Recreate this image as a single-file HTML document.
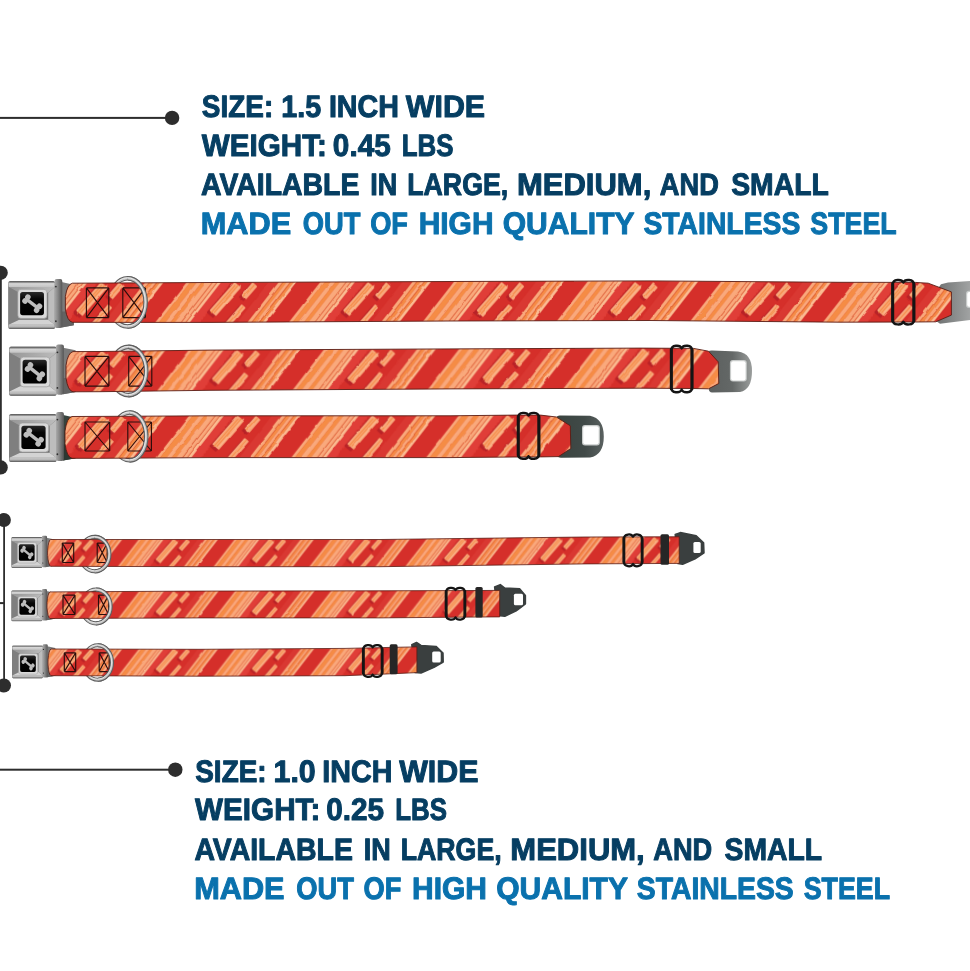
<!DOCTYPE html>
<html lang="en"><head><meta charset="utf-8"><title>Collar sizes</title>
<style>
html,body{margin:0;padding:0;background:#fff;}
body{width:970px;height:971px;overflow:hidden;}
svg{display:block;}
text{text-rendering:geometricPrecision;font-family:"Liberation Sans",sans-serif;font-weight:bold;font-size:31px;stroke-width:1px;stroke-linejoin:round;}
.n{fill:#063e62;stroke:#063e62;}
.b{fill:#0a71ad;stroke:#0a71ad;}
</style></head><body>
<svg width="970" height="971" viewBox="0 0 970 971">
<defs>
<filter id="wob" filterUnits="userSpaceOnUse" x="-20" y="-8" width="1400" height="60" color-interpolation-filters="sRGB">
<feTurbulence type="fractalNoise" baseFrequency="0.075" numOctaves="1" seed="7" result="n"/>
<feDisplacementMap in="SourceGraphic" in2="n" scale="2.8" xChannelSelector="R" yChannelSelector="G" result="d"/>
<feGaussianBlur in="d" stdDeviation="0.45"/>
</filter>
<g id="per"><g transform="rotate(37.95423087513252)"><path d="M23.66,-120 L34.38,-120 q2.4,1.7 0,3.8 q2.4,1.7 0,3.8 q2.4,1.7 0,3.8 q2.4,1.7 0,3.8 q2.4,1.7 0,3.8 q2.4,1.7 0,3.8 q2.4,1.7 0,3.8 q2.4,1.7 0,3.8 q2.4,1.7 0,3.8 q2.4,1.7 0,3.8 q2.4,1.7 0,3.8 q2.4,1.7 0,3.8 q2.4,1.7 0,3.8 q2.4,1.7 0,3.8 q2.4,1.7 0,3.8 q2.4,1.7 0,3.8 q2.4,1.7 0,3.8 q2.4,1.7 0,3.8 q2.4,1.7 0,3.8 q2.4,1.7 0,3.8 q2.4,1.7 0,3.8 q2.4,1.7 0,3.8 q2.4,1.7 0,3.8 q2.4,1.7 0,3.8 q2.4,1.7 0,3.8 q2.4,1.7 0,3.8 q2.4,1.7 0,3.8 q2.4,1.7 0,3.8 q2.4,1.7 0,3.8 q2.4,1.7 0,3.8 q2.4,1.7 0,3.8 q2.4,1.7 0,3.8 q2.4,1.7 0,3.8 q2.4,1.7 0,3.8 q2.4,1.7 0,3.8 q2.4,1.7 0,3.8 q2.4,1.7 0,3.8 q2.4,1.7 0,3.8 q2.4,1.7 0,3.8 q2.4,1.7 0,3.8 q2.4,1.7 0,3.8 q2.4,1.7 0,3.8 q2.4,1.7 0,3.8 q2.4,1.7 0,3.8 q2.4,1.7 0,3.8 q2.4,1.7 0,3.8 q2.4,1.7 0,3.8 q2.4,1.7 0,3.8 q2.4,1.7 0,3.8 q2.4,1.7 0,3.8 q2.4,1.7 0,3.8 q2.4,1.7 0,3.8 q2.4,1.7 0,3.8 q2.4,1.7 0,3.8 q2.4,1.7 0,3.8 q2.4,1.7 0,3.8 q2.4,1.7 0,3.8 q2.4,1.7 0,3.8 L23.66,100.4 Z" fill="#e03e38"/>
<rect x="0.00" y="-120" width="2.92" height="220" fill="#f9a97c"/>
<rect x="2.76" y="-120" width="5.28" height="220" fill="#f58c45"/>
<rect x="7.89" y="-120" width="4.10" height="220" fill="#f9a97c"/>
<rect x="11.83" y="-120" width="3.71" height="220" fill="#f58c45"/>
<rect x="15.38" y="-120" width="4.89" height="220" fill="#f9a97c"/>
<rect x="20.11" y="-120" width="0.63" height="220" fill="#d9652f"/>
<rect x="20.74" y="-120" width="3.15" height="220" fill="#f9a97c"/>
<rect x="23.89" y="-120" width="0.55" height="220" fill="#d9652f"/>
<rect x="24.44" y="-120" width="2.76" height="220" fill="#fbbd92"/>
<rect x="35.32" y="-26.50" width="8.67" height="38.05" rx="0.8" fill="#b82227" transform="rotate(3.4 39.66 -7.47)"/>
<rect x="36.43" y="-29.89" width="8.67" height="38.05" rx="0.8" fill="#f9a97c" transform="rotate(3.4 40.77 -10.87)"/>
<rect x="38.48" y="-27.94" width="1.18" height="36.78" rx="0" fill="#f58c45" transform="rotate(3.4 39.07 -9.55)"/>
<rect x="40.84" y="-29.75" width="1.10" height="36.78" rx="0" fill="#f58c45" transform="rotate(3.4 41.40 -11.36)"/>
<rect x="43.05" y="-31.38" width="0.87" height="36.78" rx="0" fill="#fbbd92" transform="rotate(3.4 43.49 -12.99)"/>
<rect x="50.62" y="-38.14" width="6.31" height="17.76" rx="0.8" fill="#b82227" transform="rotate(3.4 53.78 -29.26)"/>
<rect x="51.57" y="-40.78" width="6.31" height="17.12" rx="0.8" fill="#f9a97c" transform="rotate(3.4 54.72 -32.22)"/>
<rect x="54.01" y="-40.02" width="1.10" height="15.85" rx="0" fill="#f58c45" transform="rotate(3.4 54.56 -32.10)"/>
<rect x="54.88" y="-13.89" width="5.52" height="34.88" rx="0.8" fill="#b82227" transform="rotate(3.4 57.64 0.84)"/>
<rect x="55.83" y="-16.78" width="5.52" height="37.03" rx="0.8" fill="#f9a97c" transform="rotate(3.4 58.59 0.11)"/>
<rect x="58.03" y="-16.12" width="1.03" height="36.40" rx="0" fill="#f58c45" transform="rotate(3.4 58.55 0.14)"/>
<rect x="64.66" y="-120" width="7.10" height="220" fill="#d93832"/>
<rect x="72.54" y="-120" width="3.31" height="220" fill="#f9a97c"/>
<rect x="75.70" y="-120" width="0.55" height="220" fill="#d9652f"/>
<rect x="76.25" y="-120" width="2.68" height="220" fill="#f58c45"/>
<rect x="78.85" y="-120" width="2.84" height="220" fill="#f9a97c"/>
<rect x="81.61" y="-120" width="0.55" height="220" fill="#d9652f"/>
<rect x="82.16" y="-120" width="2.21" height="220" fill="#f58c45"/>
<rect x="84.37" y="-120" width="2.68" height="220" fill="#fbbd92"/></g></g>
<g id="band"><rect x="-30" y="-10" width="1420" height="64" fill="#d52f2a"/>
<use href="#per" x="-133.5"/><use href="#per" x="0.0"/><use href="#per" x="133.5"/><use href="#per" x="267.0"/><use href="#per" x="400.5"/><use href="#per" x="534.0"/><use href="#per" x="667.5"/><use href="#per" x="801.0"/><use href="#per" x="934.5"/><use href="#per" x="1068.0"/><use href="#per" x="1201.5"/>
</g>

<linearGradient id="gClamp" x1="0" x2="1" y1="0" y2="0">
<stop offset="0" stop-color="#a8a8a8"/><stop offset="0.4" stop-color="#8a8a8a"/><stop offset="1" stop-color="#555"/>
</linearGradient>
<linearGradient id="gRim" x1="0" x2="0" y1="0" y2="1">
<stop offset="0" stop-color="#c9c9c9"/><stop offset="0.55" stop-color="#b5b5b5"/><stop offset="1" stop-color="#5f5f5f"/>
</linearGradient>
<linearGradient id="gTop" x1="0" x2="0" y1="0" y2="1">
<stop offset="0" stop-color="#5c5c5c"/><stop offset="0.35" stop-color="#d6d6d6"/><stop offset="1" stop-color="#c2c2c2"/>
</linearGradient>
<linearGradient id="gFaceT" x1="0" x2="1" y1="0" y2="0"><stop offset="0" stop-color="#969696"/><stop offset="1" stop-color="#bcbcbc"/></linearGradient>
<linearGradient id="gSq" x1="0" x2="0" y1="0" y2="1">
<stop offset="0" stop-color="#2a2a2a"/><stop offset="0.3" stop-color="#060606"/><stop offset="1" stop-color="#000"/>
</linearGradient>
<linearGradient id="gTongue" x1="0" x2="1" y1="0" y2="0">
<stop offset="0" stop-color="#5b5f5e"/><stop offset="0.55" stop-color="#646867"/><stop offset="1" stop-color="#9a9d9c"/>
</linearGradient>
<linearGradient id="gTongue1" x1="0" x2="1" y1="0" y2="0">
<stop offset="0" stop-color="#6d7070"/><stop offset="1" stop-color="#a2a4a4"/>
</linearGradient>
<linearGradient id="gTongue3" x1="0" x2="1" y1="0" y2="0">
<stop offset="0" stop-color="#39433f"/><stop offset="0.6" stop-color="#414a48"/><stop offset="1" stop-color="#5a6160"/>
</linearGradient>
<g id="bone" fill="#bdbdbd">
<rect x="-7" y="-1.7" width="14" height="3.4"/>
<circle cx="-7.4" cy="-2.4" r="2.8"/><circle cx="-7.4" cy="2.4" r="2.8"/>
<circle cx="7.4" cy="-2.4" r="2.8"/><circle cx="7.4" cy="2.4" r="2.8"/>
</g>
<g id="buckle">
<rect x="0" y="0" width="47.5" height="47" rx="2" fill="#6f6f6f"/>
<rect x="0.4" y="0.6" width="46.8" height="5.6" rx="1.5" fill="url(#gTop)"/>
<polygon points="0.3,6 11,11.5 11,38 0.3,43" fill="#7f7f7f"/>
<polygon points="0.3,6 47.2,6 40.5,11.5 11,11.5" fill="url(#gFaceT)"/>
<polygon points="47.2,6 47.2,43 40.5,38 40.5,11.5" fill="#bdbdbd"/>
<polygon points="0.3,43 11,38 40.5,38 47.2,43" fill="#d3d3d3"/>
<rect x="0.4" y="42.6" width="46.8" height="4.2" rx="1.2" fill="url(#gRim)"/>
</g>
<g id="binner">
<rect x="11.2" y="10" width="29.6" height="28.5" rx="3.2" fill="#d9d9d9" stroke="#9e9e9e" stroke-width="0.7"/>
<rect x="13.5" y="12.6" width="24.2" height="22.8" rx="2.6" fill="url(#gSq)"/>
<use href="#bone" transform="translate(25.8,24) rotate(37)"/>
</g>
<g id="clamp">
<rect x="47" y="-2" width="7.8" height="48" rx="2" fill="url(#gClamp)"/>
<circle cx="48.3" cy="5.5" r="0.9" fill="#2e2e2e"/><circle cx="48.3" cy="39.5" r="0.9" fill="#2e2e2e"/>
</g>

<clipPath id="cp1"><path d="M72.4,283.2 L150,282.8 L210,282.5 L450,281.5 L650,280.9 L840,282.3 L915.3,282.4 L928.2,283.2 L951.4,291.9 L951.4,315.1 L935.7,321.8 L915.3,322.0 L840,322.2 L650,320.5 L450,321.0 L210,322.4 L150,322.4 L72.4,322.3 Q67.2,321.3 65.4,309.1 L65.4,296.4 Q67.2,284.2 72.4,283.2 Z"/></clipPath>
<clipPath id="cp2"><path d="M73,351.6 L100,351.5 L210,350.1 L450,348.9 L640,348.1 L693.5,348.4 L708.5,351.2 L718.2,361.8 L718.8,383.5 L708.5,388.8 L693.5,388.5 L640,388.2 L450,388.9 L210,390.3 L100,391.7 L73,391.8 Q67.8,390.8 66,378.0 L66,365.4 Q67.8,352.6 73,351.6 Z"/></clipPath>
<clipPath id="cp3"><path d="M72,416.5 L100,416.4 L210,415.8 L450,415.8 L516,415.1 L540.4,415.1 L556.4,417.0 L570.3,425.8 L570.8,448.5 L558.5,456.6 L540.4,456.9 L516,457.0 L450,457.6 L210,457.6 L100,458.3 L72,458.3 Q66.8,457.3 65,443.7 L65,431.1 Q66.8,417.5 72,416.5 Z"/></clipPath>
<clipPath id="cp4"><path d="M50.6,539.5 L200,539.5 L380,539.5 L585,537.0 L660,536.8 L679.2,536.8 L679.2,563.4 L660,563.5 L585,563.9 L380,566.7 L200,566.7 L50.6,566.3 Q48.4,565.3 47.6,555.6 L47.6,550.2 Q48.4,540.5 50.6,539.5 Z"/></clipPath>
<clipPath id="cp5"><path d="M50.0,591.9 L200,591.1 L380,590.8 L480,590.5 L499.7,590.4 L499.7,616.9 L480,617.0 L380,617.9 L200,617.9 L50.0,618.5 Q47.8,617.5 47.0,607.9 L47.0,602.5 Q47.8,592.9 50.0,591.9 Z"/></clipPath>
<clipPath id="cp6"><path d="M51.0,649.0 L200,649.3 L345,648.4 L400,647.2 L416.9,646.9 L416.9,672.6 L400,673.4 L345,675.7 L200,676.2 L51.0,675.7 Q48.8,674.7 48.0,665.1 L48.0,659.6 Q48.8,650.0 51.0,649.0 Z"/></clipPath>
</defs>
<rect width="970" height="971" fill="#fff"/>
<g fill="#2d2d2d" stroke="none">
<rect x="0" y="116.9" width="172" height="2"/><circle cx="172.1" cy="117.9" r="7.2"/>
<rect x="0" y="768.7" width="175" height="2"/><circle cx="175.3" cy="769.7" r="7.2"/>
<rect x="-0.3" y="272.8" width="2.1" height="194.6"/><circle cx="0.7" cy="272.8" r="7.1"/><circle cx="0.7" cy="467.4" r="7.1"/>
<rect x="3.2" y="520" width="1.8" height="165.5"/><circle cx="3.9" cy="520" r="7.0"/><circle cx="3.9" cy="685.5" r="7.1"/>
<rect x="0" y="602.1" width="4" height="2"/>
</g>
<g id="info-large">
<text y="117" class="n"><tspan x="201.86" textLength="71.35" lengthAdjust="spacingAndGlyphs">SIZE:</tspan> <tspan x="281.21" textLength="39.91" lengthAdjust="spacingAndGlyphs">1.5</tspan> <tspan x="328.91" textLength="70.08" lengthAdjust="spacingAndGlyphs">INCH</tspan> <tspan x="405.80" textLength="79.30" lengthAdjust="spacingAndGlyphs">WIDE</tspan></text>
<text y="156" class="n"><tspan x="201.70" textLength="125.16" lengthAdjust="spacingAndGlyphs">WEIGHT:</tspan> <tspan x="332.87" textLength="57.87" lengthAdjust="spacingAndGlyphs">0.45</tspan> <tspan x="401.78" textLength="51.70" lengthAdjust="spacingAndGlyphs">LBS</tspan></text>
<text y="195" class="n"><tspan x="201.06" textLength="158.39" lengthAdjust="spacingAndGlyphs">AVAILABLE</tspan> <tspan x="370.31" textLength="26.96" lengthAdjust="spacingAndGlyphs">IN</tspan> <tspan x="407.23" textLength="101.05" lengthAdjust="spacingAndGlyphs">LARGE,</tspan> <tspan x="516.96" textLength="134.37" lengthAdjust="spacingAndGlyphs">MEDIUM,</tspan> <tspan x="659.87" textLength="58.97" lengthAdjust="spacingAndGlyphs">AND</tspan> <tspan x="731.16" textLength="97.63" lengthAdjust="spacingAndGlyphs">SMALL</tspan></text>
<text y="234" class="b"><tspan x="200.78" textLength="90.43" lengthAdjust="spacingAndGlyphs">MADE</tspan> <tspan x="302.85" textLength="57.69" lengthAdjust="spacingAndGlyphs">OUT</tspan> <tspan x="370.15" textLength="37.84" lengthAdjust="spacingAndGlyphs">OF</tspan> <tspan x="418.63" textLength="74.95" lengthAdjust="spacingAndGlyphs">HIGH</tspan> <tspan x="502.77" textLength="131.26" lengthAdjust="spacingAndGlyphs">QUALITY</tspan> <tspan x="643.46" textLength="156.89" lengthAdjust="spacingAndGlyphs">STAINLESS</tspan> <tspan x="810.28" textLength="86.38" lengthAdjust="spacingAndGlyphs">STEEL</tspan></text>
</g>
<g id="info-small">
<text y="782" class="n"><tspan x="195.26" textLength="71.35" lengthAdjust="spacingAndGlyphs">SIZE:</tspan> <tspan x="273.50" textLength="42.23" lengthAdjust="spacingAndGlyphs">1.0</tspan> <tspan x="322.31" textLength="70.08" lengthAdjust="spacingAndGlyphs">INCH</tspan> <tspan x="399.20" textLength="79.30" lengthAdjust="spacingAndGlyphs">WIDE</tspan></text>
<text y="820" class="n"><tspan x="195.10" textLength="125.16" lengthAdjust="spacingAndGlyphs">WEIGHT:</tspan> <tspan x="326.27" textLength="57.87" lengthAdjust="spacingAndGlyphs">0.25</tspan> <tspan x="395.18" textLength="51.70" lengthAdjust="spacingAndGlyphs">LBS</tspan></text>
<text y="860" class="n"><tspan x="194.46" textLength="158.39" lengthAdjust="spacingAndGlyphs">AVAILABLE</tspan> <tspan x="363.71" textLength="26.96" lengthAdjust="spacingAndGlyphs">IN</tspan> <tspan x="400.63" textLength="101.05" lengthAdjust="spacingAndGlyphs">LARGE,</tspan> <tspan x="510.36" textLength="134.37" lengthAdjust="spacingAndGlyphs">MEDIUM,</tspan> <tspan x="653.27" textLength="58.97" lengthAdjust="spacingAndGlyphs">AND</tspan> <tspan x="724.56" textLength="97.63" lengthAdjust="spacingAndGlyphs">SMALL</tspan></text>
<text y="899" class="b"><tspan x="194.18" textLength="90.43" lengthAdjust="spacingAndGlyphs">MADE</tspan> <tspan x="296.25" textLength="57.69" lengthAdjust="spacingAndGlyphs">OUT</tspan> <tspan x="363.55" textLength="37.84" lengthAdjust="spacingAndGlyphs">OF</tspan> <tspan x="412.03" textLength="74.95" lengthAdjust="spacingAndGlyphs">HIGH</tspan> <tspan x="496.17" textLength="131.26" lengthAdjust="spacingAndGlyphs">QUALITY</tspan> <tspan x="636.86" textLength="156.89" lengthAdjust="spacingAndGlyphs">STAINLESS</tspan> <tspan x="803.68" textLength="86.38" lengthAdjust="spacingAndGlyphs">STEEL</tspan></text>
</g>
<g id="collar-l1">
<path d="M935.5,292 L941,284.2 L948,282.4 L971,281 L971,319.8 L940,323.8 L935.5,320.5 Z" fill="url(#gTongue1)"/><rect x="966.0" y="290.7" width="20.199999999999953" height="17.20000000000001" rx="3" fill="#c9cccb"/><rect x="967.2" y="291.9" width="17.799999999999955" height="14.800000000000011" rx="2" fill="#fff"/>
<g transform="translate(8.3,281.0) scale(0.985,1.02)">
<polygon points="54,1 66.5,3.6 66.5,43.4 54,45.5" fill="#7a7a7a"/>
<polygon points="54,30 66.5,30 66.5,43.4 54,45.5" fill="#626262"/>
<use href="#buckle"/><use href="#binner" transform="translate(-1.5,-1.8) translate(0,24) scale(1,1.0) translate(0,-24)"/><use href="#clamp"/>
</g>
<path d="M109.8,302.4 A17.9,24.1 0 1 1 145.6,302.4 A17.9,24.1 0 1 1 109.8,302.4 Z" fill="none" stroke="#5f5f5f" stroke-width="4.60"/><path d="M109.8,302.4 A17.9,24.1 0 1 1 145.6,302.4 A17.9,24.1 0 1 1 109.8,302.4 Z" fill="none" stroke="#c2c2c2" stroke-width="2.36"/><path d="M109.8,302.4 A17.9,24.1 0 1 1 145.6,302.4 A17.9,24.1 0 1 1 109.8,302.4 Z" fill="none" stroke="#f0f0f0" stroke-width="0.84" transform="translate(-0.4,-0.4)"/>
<g clip-path="url(#cp1)"><g transform="translate(52.90,282.50) rotate(0.000) scale(1.0000)"><use href="#band" filter="url(#wob)"/></g></g><path d="M72.4,283.2 L150,282.8 L210,282.5 L450,281.5 L650,280.9 L840,282.3 L915.3,282.4 L928.2,283.2 L951.4,291.9 L951.4,315.1 L935.7,321.8 L915.3,322.0 L840,322.2 L650,320.5 L450,321.0 L210,322.4 L150,322.4 L72.4,322.3 Q67.2,321.3 65.4,309.1 L65.4,296.4 Q67.2,284.2 72.4,283.2 Z" fill="none" stroke="#5a1c14" stroke-width="0.9" stroke-linejoin="round"/>
<g stroke="#2b0e0c" stroke-width="1.15" fill="none"><path d="M86.4,287.9 V317.6 M86.4,287.9 L108.8,317.6 M86.4,317.6 L108.8,287.9 M108.8,287.9 V317.6 M86.4,287.9 H108.8 M86.4,317.6 H108.8" /></g>
<g stroke="#2b0e0c" stroke-width="1.15" fill="none"><path d="M122.8,287.9 V317.6 M122.8,287.9 L145.4,317.6 M122.8,317.6 L145.4,287.9 M145.4,287.9 V317.6 M122.8,287.9 H145.4 M122.8,317.6 H145.4" /></g>
<path d="M127.7,278.2 A17.9,24.1 0 0 1 127.7,326.5" fill="none" stroke="#5f5f5f" stroke-width="4.60"/><path d="M127.7,278.2 A17.9,24.1 0 0 1 127.7,326.5" fill="none" stroke="#c2c2c2" stroke-width="2.36"/><path d="M127.7,278.2 A17.9,24.1 0 0 1 127.7,326.5" fill="none" stroke="#f0f0f0" stroke-width="0.84" transform="translate(-0.4,-0.4)"/>
<path d="M892.7,284.5 C892.7,278.8 901.8,278.8 903.3,282.6 C904.8,278.8 913.9,278.8 913.9,284.5 V319.9 C913.9,325.59999999999997 904.8,325.59999999999997 903.3,321.79999999999995 C901.8,325.59999999999997 892.7,325.59999999999997 892.7,319.9 Z" fill="none" stroke="#141414" stroke-width="2.40" stroke-linejoin="round"/><path d="M892.7,283.5 V320.9 M913.9,283.5 V320.9" fill="none" stroke="#141414" stroke-width="3.0" stroke-linecap="round"/>
</g>
<g id="collar-l2">
<path d="M708.5,351.5 Q709,350.3 712,350.4 L738,351.6 Q752,353.5 752,371 Q752,389.5 740,392 L712,392.4 Q709,392.3 708.8,389 Z" fill="url(#gTongue)"/><rect x="729.9" y="360.1" width="16.9" height="21.499999999999964" rx="3" fill="#c9cccb"/><rect x="731.1" y="361.3" width="14.5" height="19.099999999999966" rx="2" fill="#fff"/>
<g transform="translate(9.1,346.6) scale(1.0,1.045)">
<polygon points="54,1 66.5,3.6 66.5,43.4 54,45.5" fill="#7a7a7a"/>
<polygon points="54,30 66.5,30 66.5,43.4 54,45.5" fill="#626262"/>
<use href="#buckle"/><use href="#binner" transform="translate(0.0,0.0) translate(0,24) scale(1,1.0) translate(0,-24)"/><use href="#clamp"/>
</g>
<path d="M110.8,371.0 A17.7,24.1 0 1 1 146.2,371.0 A17.7,24.1 0 1 1 110.8,371.0 Z" fill="none" stroke="#5f5f5f" stroke-width="4.60"/><path d="M110.8,371.0 A17.7,24.1 0 1 1 146.2,371.0 A17.7,24.1 0 1 1 110.8,371.0 Z" fill="none" stroke="#c2c2c2" stroke-width="2.36"/><path d="M110.8,371.0 A17.7,24.1 0 1 1 146.2,371.0 A17.7,24.1 0 1 1 110.8,371.0 Z" fill="none" stroke="#f0f0f0" stroke-width="0.84" transform="translate(-0.4,-0.4)"/>
<g clip-path="url(#cp2)"><g transform="translate(52.90,351.20) rotate(-0.260) scale(1.0135)"><use href="#band" filter="url(#wob)"/></g></g><path d="M73,351.6 L100,351.5 L210,350.1 L450,348.9 L640,348.1 L693.5,348.4 L708.5,351.2 L718.2,361.8 L718.8,383.5 L708.5,388.8 L693.5,388.5 L640,388.2 L450,388.9 L210,390.3 L100,391.7 L73,391.8 Q67.8,390.8 66,378.0 L66,365.4 Q67.8,352.6 73,351.6 Z" fill="none" stroke="#5a1c14" stroke-width="0.9" stroke-linejoin="round"/>
<g stroke="#2b0e0c" stroke-width="1.15" fill="none"><path d="M85,356.4 V386.1 M85,356.4 L108.9,386.1 M85,386.1 L108.9,356.4 M108.9,356.4 V386.1 M85,356.4 H108.9 M85,386.1 H108.9" /></g>
<g stroke="#2b0e0c" stroke-width="1.15" fill="none"><path d="M128.7,356.4 V386.1 M128.7,356.4 L151.8,386.1 M128.7,386.1 L151.8,356.4 M151.8,356.4 V386.1 M128.7,356.4 H151.8 M128.7,386.1 H151.8" /></g>
<path d="M128.5,346.9 A17.7,24.1 0 0 1 128.5,395.1" fill="none" stroke="#5f5f5f" stroke-width="4.60"/><path d="M128.5,346.9 A17.7,24.1 0 0 1 128.5,395.1" fill="none" stroke="#c2c2c2" stroke-width="2.36"/><path d="M128.5,346.9 A17.7,24.1 0 0 1 128.5,395.1" fill="none" stroke="#f0f0f0" stroke-width="0.84" transform="translate(-0.4,-0.4)"/>
<path d="M671.3,350.3 C671.3,344.6 680.15,344.6 681.65,348.40000000000003 C683.15,344.6 692.0,344.6 692.0,350.3 V387.7 C692.0,393.4 683.15,393.4 681.65,389.59999999999997 C680.15,393.4 671.3,393.4 671.3,387.7 Z" fill="none" stroke="#141414" stroke-width="2.40" stroke-linejoin="round"/><path d="M671.3,349.3 V388.7 M692.0,349.3 V388.7" fill="none" stroke="#141414" stroke-width="3.0" stroke-linecap="round"/>
</g>
<g id="collar-l3">
<path d="M556.4,417.5 Q557,415.4 560,415.5 L590,415.8 Q603.8,418.5 603.8,436.5 Q603.8,455 590,457.6 L561,457.8 Q557.5,457.6 557,455 Z" fill="url(#gTongue3)"/><rect x="582.0" y="425.1" width="17.9" height="20.4" rx="3" fill="#c9cccb"/><rect x="583.2" y="426.3" width="15.5" height="18.0" rx="2" fill="#fff"/>
<g transform="translate(9.1,414.0) scale(1.0,1.02)">
<polygon points="54,1 66.5,3.6 66.5,43.4 54,45.5" fill="#36433d"/>
<polygon points="54,30 66.5,30 66.5,43.4 54,45.5" fill="#2c3832"/>
<use href="#buckle"/><use href="#binner" transform="translate(-1.2,-1.2) translate(0,24) scale(1,1.0) translate(0,-24)"/><use href="#clamp"/>
</g>
<path d="M113.0,436.4 A16.6,23.9 0 1 1 146.2,436.4 A16.6,23.9 0 1 1 113.0,436.4 Z" fill="none" stroke="#5f5f5f" stroke-width="4.60"/><path d="M113.0,436.4 A16.6,23.9 0 1 1 146.2,436.4 A16.6,23.9 0 1 1 113.0,436.4 Z" fill="none" stroke="#c2c2c2" stroke-width="2.36"/><path d="M113.0,436.4 A16.6,23.9 0 1 1 146.2,436.4 A16.6,23.9 0 1 1 113.0,436.4 Z" fill="none" stroke="#f0f0f0" stroke-width="0.84" transform="translate(-0.4,-0.4)"/>
<g clip-path="url(#cp3)"><g transform="translate(53.80,416.20) rotate(-0.100) scale(1.0110)"><use href="#band" filter="url(#wob)"/></g></g><path d="M72,416.5 L100,416.4 L210,415.8 L450,415.8 L516,415.1 L540.4,415.1 L556.4,417.0 L570.3,425.8 L570.8,448.5 L558.5,456.6 L540.4,456.9 L516,457.0 L450,457.6 L210,457.6 L100,458.3 L72,458.3 Q66.8,457.3 65,443.7 L65,431.1 Q66.8,417.5 72,416.5 Z" fill="none" stroke="#5a1c14" stroke-width="0.9" stroke-linejoin="round"/>
<g stroke="#2b0e0c" stroke-width="1.15" fill="none"><path d="M85,422 V451 M85,422 L109.7,451 M85,451 L109.7,422 M109.7,422 V451 M85,422 H109.7 M85,451 H109.7" /></g>
<g stroke="#2b0e0c" stroke-width="1.15" fill="none"><path d="M127.8,422 V451 M127.8,422 L151.4,451 M127.8,451 L151.4,422 M151.4,422 V451 M127.8,422 H151.4 M127.8,451 H151.4" /></g>
<path d="M129.6,412.5 A16.6,23.9 0 0 1 129.6,460.4" fill="none" stroke="#5f5f5f" stroke-width="4.60"/><path d="M129.6,412.5 A16.6,23.9 0 0 1 129.6,460.4" fill="none" stroke="#c2c2c2" stroke-width="2.36"/><path d="M129.6,412.5 A16.6,23.9 0 0 1 129.6,460.4" fill="none" stroke="#f0f0f0" stroke-width="0.84" transform="translate(-0.4,-0.4)"/>
<path d="M518.2,417.4 C518.2,411.7 527.05,411.7 528.55,415.5 C530.05,411.7 538.9,411.7 538.9,417.4 V454.3 C538.9,460.0 530.05,460.0 528.55,456.2 C527.05,460.0 518.2,460.0 518.2,454.3 Z" fill="none" stroke="#141414" stroke-width="2.40" stroke-linejoin="round"/><path d="M518.2,416.4 V455.3 M538.9,416.4 V455.3" fill="none" stroke="#141414" stroke-width="3.0" stroke-linecap="round"/>
</g>
<g id="collar-s1">
<polygon points="675.2,534.4 680.3,532.6 696.2,535.8 703.6,542.7 704.0,552.9 695.1,558.8 682.6,564.2 678.0,563.6" fill="#3a3f3f" stroke="#3a3f3f" stroke-width="1.5" stroke-linejoin="round"/><rect x="693.4" y="542.1" width="7.300000000000068" height="10.799999999999955" rx="1.5" fill="#fff"/>
<g transform="translate(11.4,537.1) scale(0.65,0.655)">
<polygon points="54,1 66.5,3.6 66.5,43.4 54,45.5" fill="#7a7a7a"/>
<polygon points="54,30 66.5,30 66.5,43.4 54,45.5" fill="#626262"/>
<use href="#buckle"/><use href="#binner" transform="translate(-2.0,-0.4) translate(0,24) scale(1,1.1) translate(0,-24)"/><use href="#clamp"/>
</g>
<path d="M80.0,554.1 A14.7,17.2 0 1 1 109.4,554.1 A14.7,17.2 0 1 1 80.0,554.1 Z" fill="none" stroke="#5f5f5f" stroke-width="4.10"/><path d="M80.0,554.1 A14.7,17.2 0 1 1 109.4,554.1 A14.7,17.2 0 1 1 80.0,554.1 Z" fill="none" stroke="#c2c2c2" stroke-width="2.05"/><path d="M80.0,554.1 A14.7,17.2 0 1 1 109.4,554.1 A14.7,17.2 0 1 1 80.0,554.1 Z" fill="none" stroke="#f0f0f0" stroke-width="0.73" transform="translate(-0.4,-0.4)"/>
<g clip-path="url(#cp4)"><g transform="translate(42.70,539.60) rotate(-0.220) scale(0.7200)"><use href="#band" filter="url(#wob)"/></g></g><path d="M50.6,539.5 L200,539.5 L380,539.5 L585,537.0 L660,536.8 L679.2,536.8 L679.2,563.4 L660,563.5 L585,563.9 L380,566.7 L200,566.7 L50.6,566.3 Q48.4,565.3 47.6,555.6 L47.6,550.2 Q48.4,540.5 50.6,539.5 Z" fill="none" stroke="#5a1c14" stroke-width="0.8" stroke-linejoin="round"/>
<g stroke="#2b0e0c" stroke-width="1.15" fill="none"><path d="M62.3,543.1 V562.5 M62.3,543.1 L73.7,562.5 M62.3,562.5 L73.7,543.1 M73.7,543.1 V562.5 M62.3,543.1 H73.7 M62.3,562.5 H73.7" /></g>
<g stroke="#2b0e0c" stroke-width="1.15" fill="none"><path d="M97.2,543.1 V562.5 M97.2,543.1 L107.2,562.5 M97.2,562.5 L107.2,543.1 M107.2,543.1 V562.5 M97.2,543.1 H107.2 M97.2,562.5 H107.2" /></g>
<path d="M94.7,536.9 A14.7,17.2 0 0 1 94.7,571.4" fill="none" stroke="#5f5f5f" stroke-width="4.10"/><path d="M94.7,536.9 A14.7,17.2 0 0 1 94.7,571.4" fill="none" stroke="#c2c2c2" stroke-width="2.05"/><path d="M94.7,536.9 A14.7,17.2 0 0 1 94.7,571.4" fill="none" stroke="#f0f0f0" stroke-width="0.73" transform="translate(-0.4,-0.4)"/>
<path d="M623.9,539.1 C623.9,533.4 631.5,533.4 633.0,536.7 C634.5,533.4 642.1,533.4 642.1,539.1 V561.6 C642.1,567.3000000000001 634.5,567.3000000000001 633.0,564.0 C631.5,567.3000000000001 623.9,567.3000000000001 623.9,561.6 Z" fill="none" stroke="#141414" stroke-width="2.24" stroke-linejoin="round"/><path d="M623.9,538.1 V562.6 M642.1,538.1 V562.6" fill="none" stroke="#141414" stroke-width="2.8" stroke-linecap="round"/>
<rect x="660.5" y="534.2" width="8.5" height="30.59999999999991" rx="1.6" fill="#262626"/>
</g>
<g id="collar-s2">
<polygon points="494.6,587.0 500.3,584.6 504.8,588.1 519.6,588.7 525.4,595.5 525.4,604.0 516.2,610.8 504.8,616.2 498.0,615.4" fill="#3a3f3f" stroke="#3a3f3f" stroke-width="1.5" stroke-linejoin="round"/><rect x="513.9" y="593.8" width="9.100000000000023" height="11.400000000000091" rx="1.5" fill="#fff"/>
<g transform="translate(11.4,590.4) scale(0.65,0.655)">
<polygon points="54,1 66.5,3.6 66.5,43.4 54,45.5" fill="#7a7a7a"/>
<polygon points="54,30 66.5,30 66.5,43.4 54,45.5" fill="#626262"/>
<use href="#buckle"/><use href="#binner" transform="translate(-1.2,0.6) translate(0,24) scale(1,1.1) translate(0,-24)"/><use href="#clamp"/>
</g>
<path d="M81.5,606.5 A14.6,16.9 0 1 1 110.7,606.5 A14.6,16.9 0 1 1 81.5,606.5 Z" fill="none" stroke="#5f5f5f" stroke-width="4.10"/><path d="M81.5,606.5 A14.6,16.9 0 1 1 110.7,606.5 A14.6,16.9 0 1 1 81.5,606.5 Z" fill="none" stroke="#c2c2c2" stroke-width="2.05"/><path d="M81.5,606.5 A14.6,16.9 0 1 1 110.7,606.5 A14.6,16.9 0 1 1 81.5,606.5 Z" fill="none" stroke="#f0f0f0" stroke-width="0.73" transform="translate(-0.4,-0.4)"/>
<g clip-path="url(#cp5)"><g transform="translate(42.70,591.90) rotate(-0.210) scale(0.7200)"><use href="#band" filter="url(#wob)"/></g></g><path d="M50.0,591.9 L200,591.1 L380,590.8 L480,590.5 L499.7,590.4 L499.7,616.9 L480,617.0 L380,617.9 L200,617.9 L50.0,618.5 Q47.8,617.5 47.0,607.9 L47.0,602.5 Q47.8,592.9 50.0,591.9 Z" fill="none" stroke="#5a1c14" stroke-width="0.8" stroke-linejoin="round"/>
<g stroke="#2b0e0c" stroke-width="1.15" fill="none"><path d="M63,595.1 V614.5 M63,595.1 L75,614.5 M63,614.5 L75,595.1 M75,595.1 V614.5 M63,595.1 H75 M63,614.5 H75" /></g>
<g stroke="#2b0e0c" stroke-width="1.15" fill="none"><path d="M98.5,595.1 V614.5 M98.5,595.1 L108.6,614.5 M98.5,614.5 L108.6,595.1 M108.6,595.1 V614.5 M98.5,595.1 H108.6 M98.5,614.5 H108.6" /></g>
<path d="M96.1,589.6 A14.6,16.9 0 0 1 96.1,623.4" fill="none" stroke="#5f5f5f" stroke-width="4.10"/><path d="M96.1,589.6 A14.6,16.9 0 0 1 96.1,623.4" fill="none" stroke="#c2c2c2" stroke-width="2.05"/><path d="M96.1,589.6 A14.6,16.9 0 0 1 96.1,623.4" fill="none" stroke="#f0f0f0" stroke-width="0.73" transform="translate(-0.4,-0.4)"/>
<path d="M446.09999999999997,592.5 C446.09999999999997,586.8 454.0,586.8 455.5,590.1 C457.0,586.8 464.90000000000003,586.8 464.90000000000003,592.5 V615.0 C464.90000000000003,620.7 457.0,620.7 455.5,617.4 C454.0,620.7 446.09999999999997,620.7 446.09999999999997,615.0 Z" fill="none" stroke="#141414" stroke-width="2.24" stroke-linejoin="round"/><path d="M446.09999999999997,591.5 V616.0 M464.90000000000003,591.5 V616.0" fill="none" stroke="#141414" stroke-width="2.8" stroke-linecap="round"/>
<rect x="475.4" y="587.0" width="7.300000000000011" height="30.600000000000023" rx="1.6" fill="#262626"/>
</g>
<g id="collar-s3">
<polygon points="411.8,644.6 416.5,642.4 421.0,645.4 436.0,646.4 443.0,653.0 443.2,662.0 434.0,667.4 421.0,673.0 415.0,672.4" fill="#3a3f3f" stroke="#3a3f3f" stroke-width="1.5" stroke-linejoin="round"/><rect x="432.2" y="651.6" width="8.5" height="10.799999999999955" rx="1.5" fill="#fff"/>
<g transform="translate(12.1,645.6) scale(0.65,0.695)">
<polygon points="54,1 66.5,3.6 66.5,43.4 54,45.5" fill="#7a7a7a"/>
<polygon points="54,30 66.5,30 66.5,43.4 54,45.5" fill="#626262"/>
<use href="#buckle"/><use href="#binner" transform="translate(-1.2,2.0) translate(0,24) scale(1,1.04) translate(0,-24)"/><use href="#clamp"/>
</g>
<path d="M83.5,662.5 A14.2,17.2 0 1 1 112.0,662.5 A14.2,17.2 0 1 1 83.5,662.5 Z" fill="none" stroke="#5f5f5f" stroke-width="4.10"/><path d="M83.5,662.5 A14.2,17.2 0 1 1 112.0,662.5 A14.2,17.2 0 1 1 83.5,662.5 Z" fill="none" stroke="#c2c2c2" stroke-width="2.05"/><path d="M83.5,662.5 A14.2,17.2 0 1 1 112.0,662.5 A14.2,17.2 0 1 1 83.5,662.5 Z" fill="none" stroke="#f0f0f0" stroke-width="0.73" transform="translate(-0.4,-0.4)"/>
<g clip-path="url(#cp6)"><g transform="translate(42.70,649.20) rotate(-0.200) scale(0.7200)"><use href="#band" filter="url(#wob)"/></g></g><path d="M51.0,649.0 L200,649.3 L345,648.4 L400,647.2 L416.9,646.9 L416.9,672.6 L400,673.4 L345,675.7 L200,676.2 L51.0,675.7 Q48.8,674.7 48.0,665.1 L48.0,659.6 Q48.8,650.0 51.0,649.0 Z" fill="none" stroke="#5a1c14" stroke-width="0.8" stroke-linejoin="round"/>
<g stroke="#2b0e0c" stroke-width="1.15" fill="none"><path d="M64.3,652.8 V671.6 M64.3,652.8 L75.7,671.6 M64.3,671.6 L75.7,652.8 M75.7,652.8 V671.6 M64.3,652.8 H75.7 M64.3,671.6 H75.7" /></g>
<g stroke="#2b0e0c" stroke-width="1.15" fill="none"><path d="M99.2,652.8 V671.6 M99.2,652.8 L109.2,671.6 M99.2,671.6 L109.2,652.8 M109.2,652.8 V671.6 M99.2,652.8 H109.2 M99.2,671.6 H109.2" /></g>
<path d="M97.8,645.3 A14.2,17.2 0 0 1 97.8,679.7" fill="none" stroke="#5f5f5f" stroke-width="4.10"/><path d="M97.8,645.3 A14.2,17.2 0 0 1 97.8,679.7" fill="none" stroke="#c2c2c2" stroke-width="2.05"/><path d="M97.8,645.3 A14.2,17.2 0 0 1 97.8,679.7" fill="none" stroke="#f0f0f0" stroke-width="0.73" transform="translate(-0.4,-0.4)"/>
<path d="M363.29999999999995,649.8 C363.29999999999995,644.0999999999999 371.2,644.0999999999999 372.7,647.4 C374.2,644.0999999999999 382.1,644.0999999999999 382.1,649.8 V672.2 C382.1,677.9000000000001 374.2,677.9000000000001 372.7,674.6 C371.2,677.9000000000001 363.29999999999995,677.9000000000001 363.29999999999995,672.2 Z" fill="none" stroke="#141414" stroke-width="2.24" stroke-linejoin="round"/><path d="M363.29999999999995,648.8 V673.2 M382.1,648.8 V673.2" fill="none" stroke="#141414" stroke-width="2.8" stroke-linecap="round"/>
<rect x="389.7" y="644.3" width="7.900000000000034" height="30.0" rx="1.6" fill="#262626"/>
</g>
</svg></body></html>
